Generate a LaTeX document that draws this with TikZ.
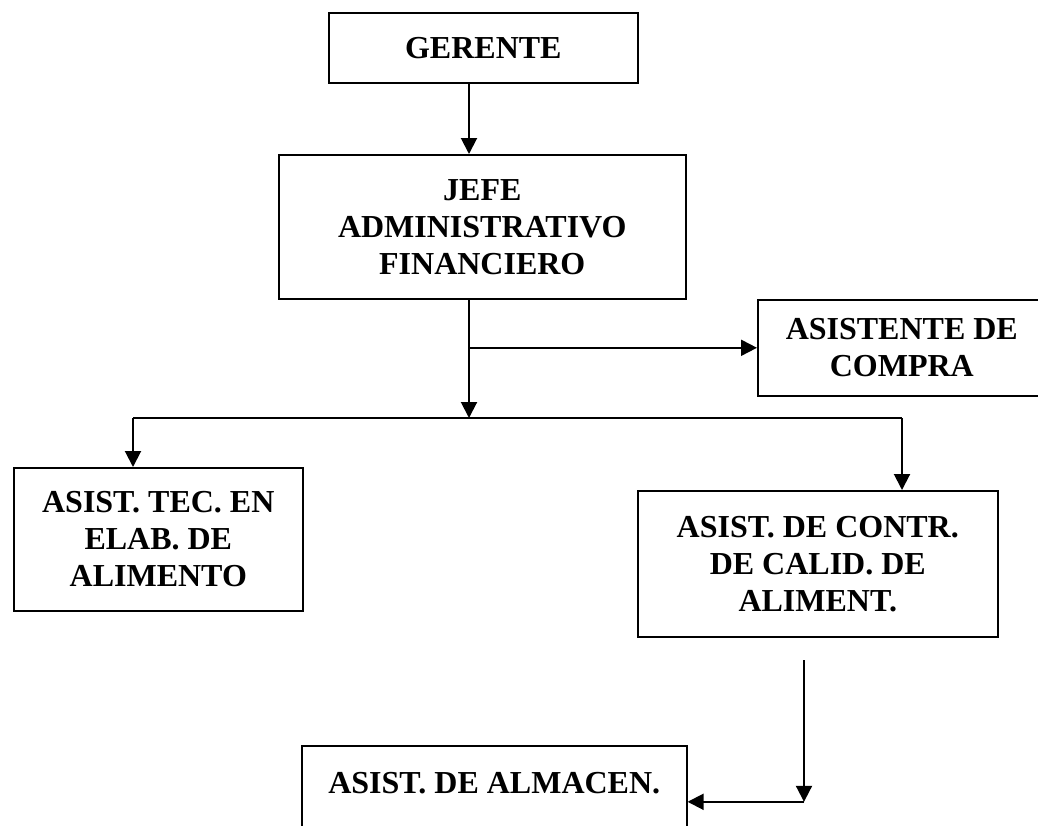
\documentclass[tikz,border=0pt]{standalone}
\usepackage{fontspec}
\setmainfont{Liberation Serif}
\usetikzlibrary{arrows.meta}
\tikzset{
    cargo/.style={draw, line width=1.6pt, inner sep=0pt, align=center, anchor=north west,
        font=\fontsize{32}{37}\selectfont\bfseries},
    flecha/.style={line width=2pt, -{Triangle[length=16pt,width=16pt]}},
    linea/.style={line width=1.8pt}
}

\begin{document}
\begin{tikzpicture}[x=1pt, y=1pt]
    \clip (0, 0) rectangle (1038, -825);
    % cargos
    \node[cargo, minimum width=309, minimum height=70] (ger) at (328, -12) {GERENTE};
    \node[cargo, minimum width=407, minimum height=144] (jefe) at (278, -154)
        {JEFE\\ADMINISTRATIVO\\FINANCIERO};
    \node[cargo, minimum width=288, minimum height=96] (compra) at (757, -299)
        {ASISTENTE DE\\COMPRA};
    \node[cargo, minimum width=289, minimum height=143] (tec) at (13, -467)
        {ASIST. TEC. EN\\ELAB. DE\\ALIMENTO};
    \node[cargo, minimum width=360, minimum height=146] (calid) at (637, -490)
        {ASIST. DE CONTR.\\DE CALID. DE\\ALIMENT.};
    \node[cargo, minimum width=385, minimum height=112] (alm) at (301, -745)
        {ASIST. DE ALMACEN.\\~};
    % puntos de las lineas
    \coordinate (tronco) at (469, -418);
    \coordinate (barraIzq) at (133, -418);
    \coordinate (barraDer) at (902, -418);
    \coordinate (bajada) at (804, -660);
    % conectores
    \draw[flecha] (ger.south -| tronco) -- (jefe.north -| tronco);
    \draw[flecha] (jefe.south -| tronco) -- (tronco);
    \draw[flecha] (tronco |- compra.west) -- (compra.west);
    \draw[linea] (barraIzq) -- (barraDer);
    \draw[flecha] (barraIzq) -- (barraIzq |- tec.north);
    \draw[flecha] (barraDer) -- (barraDer |- calid.north);
    \draw[flecha] (bajada) -- (bajada |- alm.east);
    \draw[flecha] (bajada |- alm.east) -- (alm.east);
\end{tikzpicture}
\end{document}
